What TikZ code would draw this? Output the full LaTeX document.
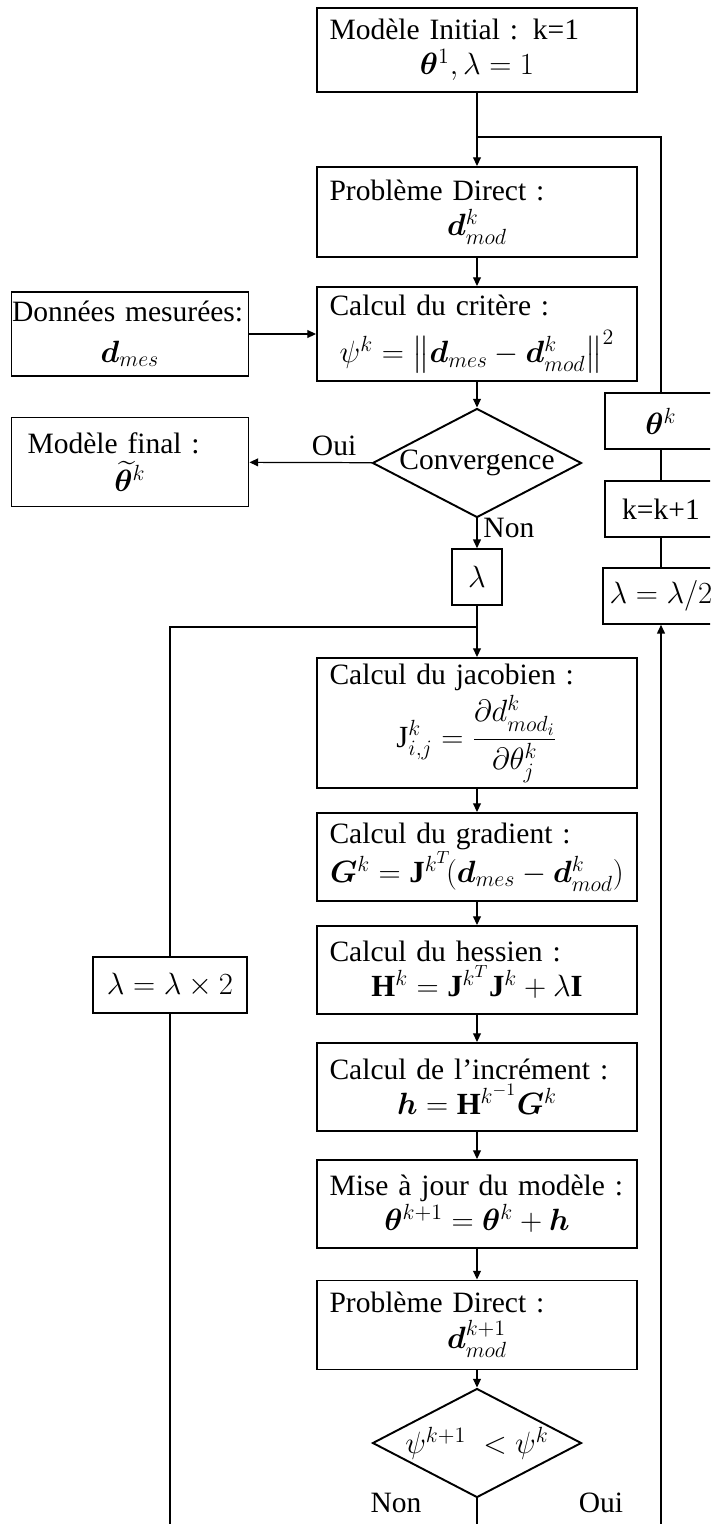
\documentclass[tikz,border=0pt]{standalone}
\usepackage{fix-cm}
\usepackage{amssymb,amsmath,bm}
\usepackage{fontspec}
\setmainfont{Liberation Serif}
\DeclareMathSizes{16.8}{17.5}{12.5}{10}
\usepackage{tikz}
\usetikzlibrary{shapes.geometric}
\usetikzlibrary{arrows.meta}
\newcommand{\milieu}[1]{\makebox[\linewidth]{#1}}

\begin{document}
\begin{tikzpicture}[x=0.02cm, y=-0.02cm,
    every node/.style={font=\fontsize{16.8}{20}\selectfont},
    boite/.style={draw, line width=1.1pt, text width=5.9cm, inner xsep=0.25cm,
        inner ysep=0.1cm, align=left, minimum height=1.76cm},
    petite/.style={draw, line width=0.9pt, inner sep=0.1cm, minimum height=1.12cm},
    losange/.style={draw, diamond, aspect=1.92, line width=1.1pt,
        minimum width=4.18cm, minimum height=2.18cm, inner sep=0pt},
    fleche/.style={-{Triangle[length=5pt,width=4.5pt]}, line width=0.7pt},
    ligne/.style={line width=0.6pt}]
    \clip (0,0) rectangle (710,1524);

    % colonne principale
    \node[boite, minimum height=1.68cm] (init) at (477,50) {Modèle Initial : k=1\\ \milieu{$\bm{\theta}^1, \lambda = 1$}};
    \node[boite, minimum height=1.8cm] (direct1) at (477,212) {Problème Direct :\\ \milieu{$\bm{d}^k_{mod}$}};
    \node[boite, minimum height=1.88cm] (critere) at (477,334) {Calcul du critère :\\[7pt] \milieu{$\psi^k = \left\|\bm{d}_{mes} - \bm{d}^k_{mod}\right\|^2$}};
    \node[losange] (conv) at (477,463) {Convergence};
    \node[petite, minimum width=1cm] (lam) at (477,577) {$\lambda$};
    \node[boite, minimum height=2.6cm] (jacob) at (477,723) {Calcul du jacobien :\\[2pt] \milieu{$\mathrm{J}^k_{i,j} = \dfrac{\partial d^k_{mod_i}}{\partial \theta^k_j}$}};
    \node[boite] (grad) at (477,857) {Calcul du gradient :\\ \milieu{$\bm{G}^k = \mathbf{J}^{k^T}\!(\bm{d}_{mes} - \bm{d}^k_{mod})$}};
    \node[boite] (hess) at (477,970) {Calcul du hessien :\\ \milieu{$\mathbf{H}^k = \mathbf{J}^{k^T}\mathbf{J}^k + \lambda\mathbf{I}$}};
    \node[boite] (incr) at (477,1087) {Calcul de l'incrément :\\ \milieu{$\bm{h} = \mathbf{H}^{k^{-1}}\bm{G}^k$}};
    \node[boite] (maj) at (477,1204) {Mise à jour du modèle :\\ \milieu{$\bm{\theta}^{k+1} = \bm{\theta}^k + \bm{h}$}};
    \node[boite, minimum height=1.78cm] (direct2) at (477,1325) {Problème Direct :\\ \milieu{$\bm{d}^{k+1}_{mod}$}};
    \node[losange] (test) at (477,1443) {$\psi^{k+1}\;<\psi^k$};
    \node (non2) at (396,1503) {Non};
    \node (oui2) at (601,1503) {Oui};

    % a gauche
    \node[boite, text width=4.72cm, inner xsep=0.01cm, minimum height=1.68cm] (mesure) at (130,334) {Données mesurées:\\[3pt] \milieu{$\bm{d}_{mes}$}};
    \node[boite, text width=4.1cm, inner xsep=0.32cm, minimum height=1.78cm] (final) at (130,462) {Modèle final :\\[2pt] \milieu{$\widetilde{\bm{\theta}}^k$}};
    \node[petite, minimum width=3.08cm] (lammul) at (170,985) {$\lambda = \lambda \times 2$};

    % a droite
    \node[petite, minimum width=2.24cm] (theta) at (661,421) {$\bm{\theta}^k$};
    \node[petite, minimum width=2.24cm] (kplus) at (661,509) {k=k+1};
    \node[petite, minimum width=2.32cm] (lamdiv) at (661,596) {$\lambda = \lambda/2$};

    \coordinate (j1) at (477,137);
    \coordinate (j2) at (477,627);
    \coordinate (b1) at (170,1524);
    \coordinate (b2) at (477,1524);
    \coordinate (b3) at (661,1524);

    \foreach \a/\b in {init/direct1,direct1/critere,critere/conv,lam/jacob,jacob/grad,
        grad/hess,hess/incr,incr/maj,maj/direct2,direct2/test}
        \draw[fleche] (\a) -- (\b);
    \draw[fleche] (mesure) -- (critere);
    \draw[fleche] (conv) -- node[above, pos=0.31] {Oui} (final);
    \draw[fleche] (conv) -- node[right, pos=0.33] {Non} (lam);
    \draw[ligne] (test) -- (b2);
    \draw[ligne] (b1) -- (lammul);
    \draw[ligne] (lammul) |- (j2);
    \draw[ligne] (j1) -| (theta);
    \draw[ligne] (theta) -- (kplus);
    \draw[ligne] (kplus) -- (lamdiv);
    \draw[fleche] (b3) -- (lamdiv);
\end{tikzpicture}
\end{document}
